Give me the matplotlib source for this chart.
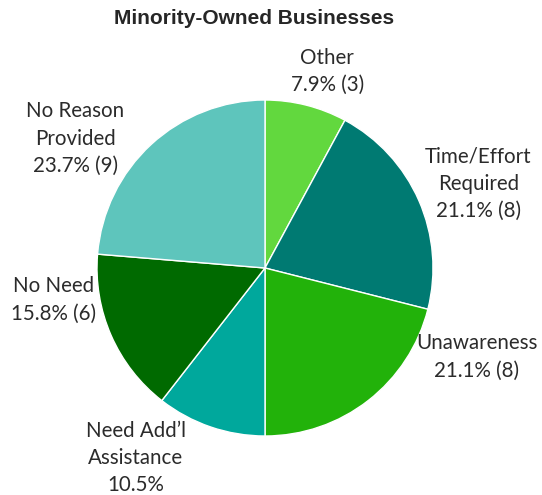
import matplotlib
matplotlib.use("Agg")
import matplotlib.pyplot as plt

categories = ["Other", "Time/Effort\nRequired", "Unawareness", "Need Add\u2019l\nAssistance",
              "No Need", "No Reason\nProvided"]
counts = [3, 8, 8, 4, 6, 9]
show_count = [True, True, True, False, True, True]
colors = ["#62D83E", "#007A72", "#22B20A", "#00A89C", "#006A00", "#5EC5BC"]

# label centres in data units (pie radius = 1)
label_pos = [(0.37, 1.17), (1.27, 0.50), (1.26, -0.53), (-0.77, -1.13), (-1.26, -0.19), (-1.13, 0.77)]

fig = plt.figure(figsize=(5.42, 4.95), dpi=100)
ax = fig.add_axes([0, 0, 1, 1])
ax.pie(counts, colors=colors, startangle=90, counterclock=False, radius=1,
       wedgeprops=dict(edgecolor="white", linewidth=1))

total = sum(counts)
for name, c, show, (x, y) in zip(categories, counts, show_count, label_pos):
    txt = f"{name}\n{c / total * 100:.1f}%"
    if show:
        txt += f" ({c})"
    ax.text(x, y, txt, ha="center", va="center", fontsize=14.8, color="#2b2b2b",
            family="Lato", linespacing=1.45)

ax.set_xlim(-265 / 168, (542 - 265) / 168)
ax.set_ylim(-(495 - 268) / 168, 268 / 168)
ax.set_aspect("equal")
ax.axis("off")
fig.text(254 / 542, 1 - 18 / 495, "Minority-Owned Businesses", ha="center", va="center",
         fontsize=15, fontweight="bold", family="Liberation Sans", color="#262626")

fig.savefig("out.png", dpi=100)
